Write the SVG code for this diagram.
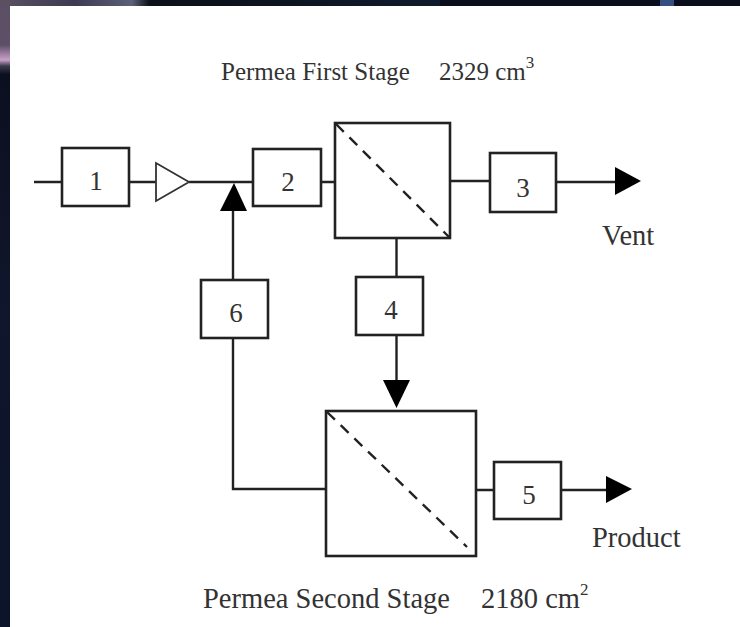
<svg xmlns="http://www.w3.org/2000/svg" width="740" height="627" viewBox="0 0 740 627">
<style>
.box{fill:#fff;stroke:#222;stroke-width:2.6}
.con{fill:none;stroke:#222;stroke-width:2.4}
.mem{stroke:#222;stroke-width:2.4;stroke-dasharray:11 8;fill:none}
.head{fill:#000;stroke:none}
text{font-family:"Liberation Serif","Times New Roman",serif;fill:#333}
.top{font-size:25px}
.lbl{font-size:28.500px}
.num{font-size:27px;text-anchor:middle}
.sup{font-size:17px}
</style>
<defs>
<linearGradient id="bgv" x1="0" y1="0" x2="0" y2="1"><stop offset="0" stop-color="#0a0d1c"/><stop offset="0.5" stop-color="#10162c"/><stop offset="1" stop-color="#0b1428"/></linearGradient>
<linearGradient id="top" x1="0" y1="0" x2="1" y2="0"><stop offset="0" stop-color="#5a5062"/><stop offset="0.17" stop-color="#3c3a52"/><stop offset="0.3" stop-color="#5c6078"/><stop offset="0.34" stop-color="#0c1018"/><stop offset="1" stop-color="#0e1a2c"/></linearGradient>
<linearGradient id="left" x1="0" y1="0" x2="0" y2="1"><stop offset="0" stop-color="#5a5062"/><stop offset="0.6" stop-color="#5e4f68"/><stop offset="0.8" stop-color="#c8a0c8"/><stop offset="0.88" stop-color="#3a3a4c"/><stop offset="1" stop-color="#0a0d1c"/></linearGradient>
</defs>
<rect width="740" height="627" fill="url(#bgv)"/>
<rect width="440" height="6" fill="url(#top)"/>
<rect x="0" y="0" width="10" height="75" fill="url(#left)"/>
<rect x="660" y="0" width="14" height="6" fill="#34507e"/>
<rect x="10" y="6" width="730" height="621" fill="#fff"/>
<g id="connectors">
<path class="con" d="M34 182H62M129 182H156M189 182H253M321 182H335M450 181H490M556 182H616"/>
<path class="con" d="M233 280V208M233 338V489H326"/>
<path class="con" d="M396.500 238V277M396.500 335V382"/>
<path class="con" d="M476 490H494M561 490H608"/>
<path class="head" d="M234 183L247 211H220Z"/>
<path class="head" d="M615 167L641 181 615 195Z"/>
<path class="head" d="M383 380H410L396.500 408Z"/>
<path class="head" d="M606 476L632 489 606 503Z"/>
</g>
<g id="n1"><rect class="box" x="62" y="148" width="67" height="58"/><text class="num" x="96" y="190">1</text></g>
<g id="amp"><path d="M156 163V201L189 182Z" fill="#fff" stroke="#333" stroke-width="1.800"/></g>
<g id="n2"><rect class="box" x="253" y="149" width="68" height="57"/><text class="num" x="288" y="191">2</text></g>
<g id="stage1"><rect class="box" x="335" y="123" width="115" height="115"/><path class="mem" d="M336 124L449 237"/></g>
<g id="n3"><rect class="box" x="490" y="153" width="66" height="59"/><text class="num" x="523" y="197">3</text></g>
<g id="n4"><rect class="box" x="356" y="277" width="67" height="58"/><text class="num" x="391" y="319">4</text></g>
<g id="n6"><rect class="box" x="201" y="280" width="67" height="58"/><text class="num" x="236" y="322">6</text></g>
<g id="stage2"><rect class="box" x="326" y="411" width="150" height="145"/><path class="mem" d="M327 412L467 547"/></g>
<g id="n5"><rect class="box" x="494" y="462" width="67" height="57"/><text class="num" x="529" y="504">5</text></g>
<text class="top" x="221" y="80">Permea First Stage</text>
<text class="top" x="439" y="80">2329 cm<tspan class="sup" dy="-12">3</tspan></text>
<text class="lbl" x="602" y="245">Vent</text>
<text class="lbl" x="592" y="547">Product</text>
<text class="lbl" x="203" y="608">Permea Second Stage</text>
<text class="lbl" x="481" y="608">2180 cm<tspan class="sup" dy="-13">2</tspan></text>
</svg>
